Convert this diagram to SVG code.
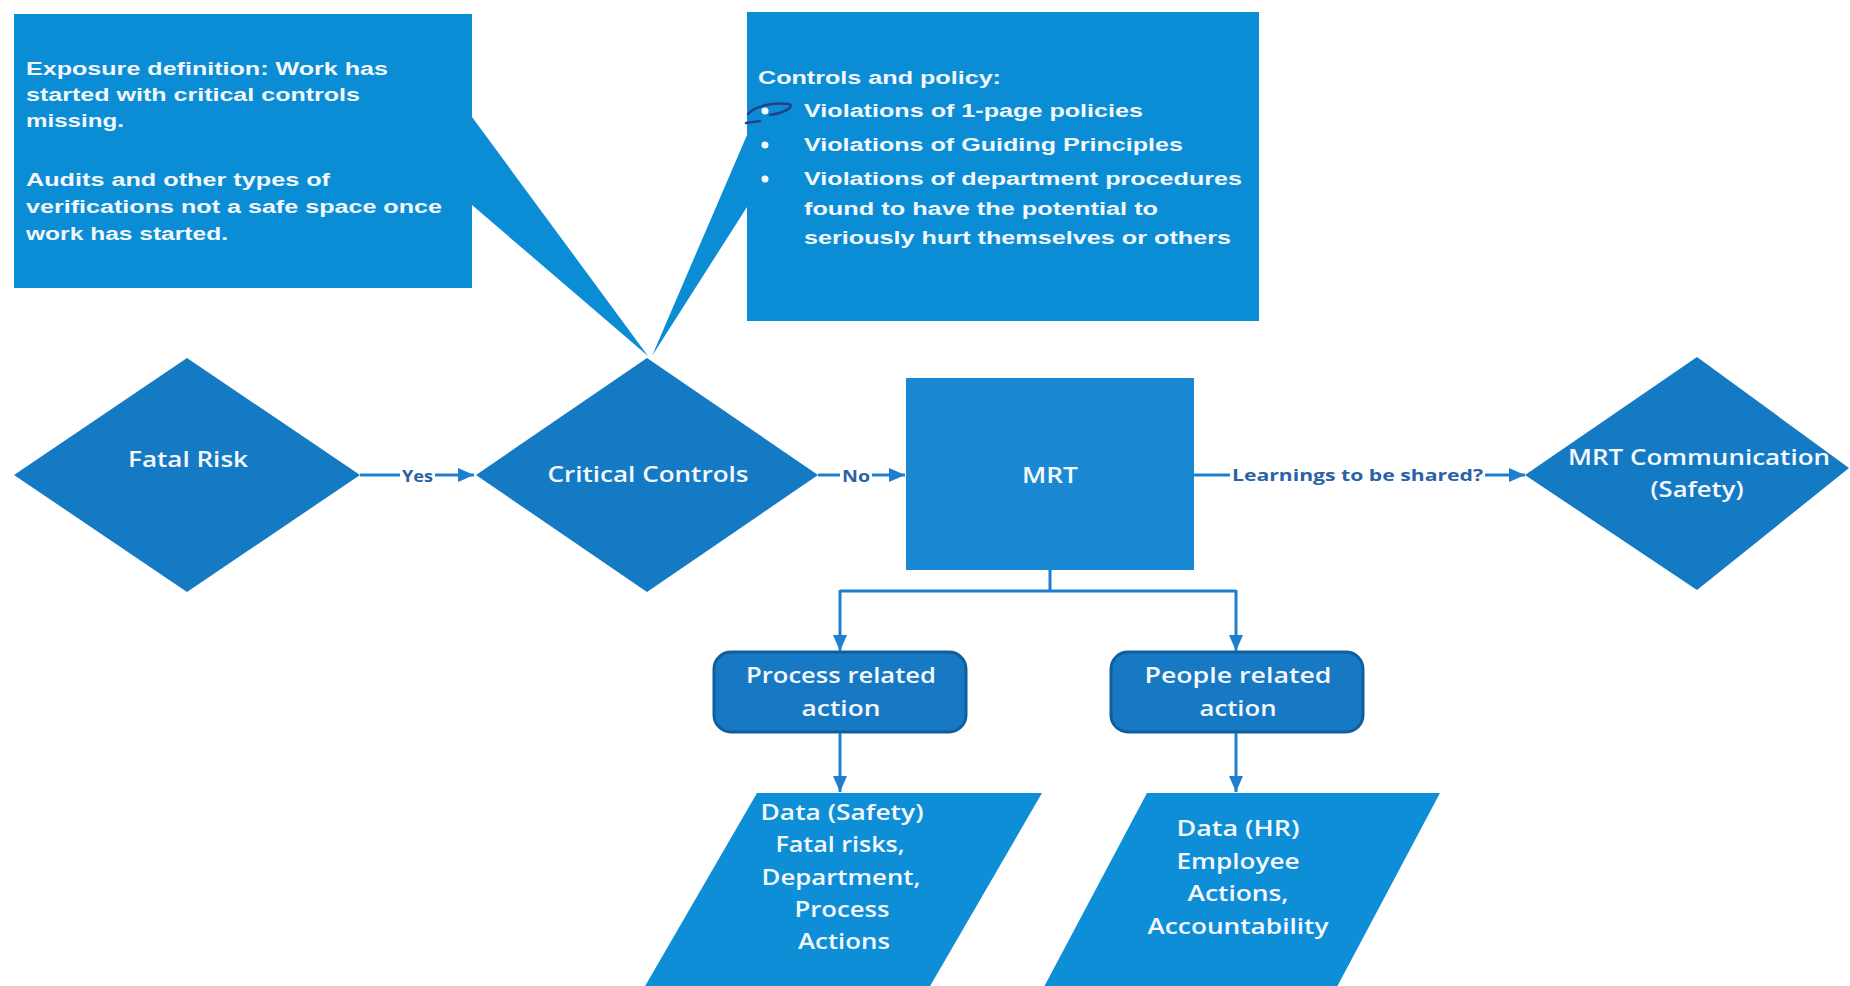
<svg xmlns="http://www.w3.org/2000/svg" width="1850" height="986" viewBox="0 0 1850 986">
<style>
.bg{fill:#ffffff}
.callout{fill:#0b8dd6}
.dia{fill:#157ac4}
.mrt{fill:#1a88d3}
.rr{fill:#1779c3;stroke:#0f5e9e;stroke-width:3}
.para{fill:#0f8ed8}
.ct{font-family:"Liberation Sans",Arial,sans-serif;font-weight:bold;font-size:18px;fill:#f2f7fb}
.nt{font-family:"Open Sans","Liberation Sans",sans-serif;font-weight:600;font-size:21px;fill:#f4f8fc;text-anchor:middle}
.lbl{font-family:"Open Sans","Liberation Sans",sans-serif;font-weight:700;font-size:16px;fill:#2a62a6}
.con{stroke:#1f7fcf;stroke-width:3;fill:none}
.bul{fill:#f2f7fb}
.pen{stroke:#22408a;stroke-width:2.5;fill:none;stroke-linecap:round}
</style>
<defs>
<marker id="arr" markerUnits="userSpaceOnUse" markerWidth="16" markerHeight="14" refX="16" refY="7" orient="auto">
<path d="M0,0 L16,7 L0,14 Z" fill="#1f7fcf"/>
</marker>
</defs>
<rect class="bg" x="0" y="0" width="1850" height="986"/>

<g id="callout-exposure">
<path class="callout" d="M14,14 H472 V117 L648,356 L472,205 V288 H14 Z"/>
<text class="ct" x="26" y="75" textLength="362" lengthAdjust="spacingAndGlyphs">Exposure definition: Work has</text>
<text class="ct" x="26" y="101" textLength="334" lengthAdjust="spacingAndGlyphs">started with critical controls</text>
<text class="ct" x="26" y="127" textLength="98" lengthAdjust="spacingAndGlyphs">missing.</text>
<text class="ct" x="26" y="186" textLength="304" lengthAdjust="spacingAndGlyphs">Audits and other types of</text>
<text class="ct" x="26" y="213" textLength="416" lengthAdjust="spacingAndGlyphs">verifications not a safe space once</text>
<text class="ct" x="26" y="240" textLength="202" lengthAdjust="spacingAndGlyphs">work has started.</text>
</g>

<g id="callout-controls">
<path class="callout" d="M747,12 H1259 V321 H747 V207 L652,356 L747,135 Z"/>
<text class="ct" x="758" y="84" textLength="243" lengthAdjust="spacingAndGlyphs">Controls and policy:</text>
<circle class="bul" cx="765" cy="111" r="3.5"/>
<circle class="bul" cx="765" cy="145" r="3.5"/>
<circle class="bul" cx="765" cy="179" r="3.5"/>
<text class="ct" x="804" y="117" textLength="339" lengthAdjust="spacingAndGlyphs">Violations of 1-page policies</text>
<text class="ct" x="804" y="151" textLength="379" lengthAdjust="spacingAndGlyphs">Violations of Guiding Principles</text>
<text class="ct" x="804" y="185" textLength="438" lengthAdjust="spacingAndGlyphs">Violations of department procedures</text>
<text class="ct" x="804" y="215" textLength="354" lengthAdjust="spacingAndGlyphs">found to have the potential to</text>
<text class="ct" x="804" y="244" textLength="427" lengthAdjust="spacingAndGlyphs">seriously hurt themselves or others</text>
<path class="pen" d="M748,114 C755,106 772,102 789,104 C794,106 788,112 770,115"/>
<path class="pen" d="M746,123 L760,121"/>
</g>

<g id="fatal-risk">
<polygon class="dia" points="14,475 187,358 360,475 187,592"/>
<text class="nt" x="188" y="467" textLength="120" lengthAdjust="spacingAndGlyphs">Fatal Risk</text>
</g>

<g id="critical-controls">
<polygon class="dia" points="476,475 647,358 818,475 647,592"/>
<text class="nt" x="648" y="482" textLength="201" lengthAdjust="spacingAndGlyphs">Critical Controls</text>
</g>

<g id="mrt">
<rect class="mrt" x="906" y="378" width="288" height="192"/>
<text class="nt" x="1050" y="483" textLength="56" lengthAdjust="spacingAndGlyphs">MRT</text>
</g>

<g id="mrt-communication">
<polygon class="dia" points="1525,475 1697,357 1849,468 1697,590"/>
<text class="nt" x="1699" y="465" textLength="262" lengthAdjust="spacingAndGlyphs">MRT Communication</text>
<text class="nt" x="1697" y="497" textLength="93" lengthAdjust="spacingAndGlyphs">(Safety)</text>
</g>

<g id="process-action">
<rect class="rr" x="714" y="652" width="252" height="80" rx="17"/>
<text class="nt" x="841" y="683" textLength="190" lengthAdjust="spacingAndGlyphs">Process related</text>
<text class="nt" x="841" y="716" textLength="79" lengthAdjust="spacingAndGlyphs">action</text>
</g>

<g id="people-action">
<rect class="rr" x="1111" y="652" width="252" height="80" rx="17"/>
<text class="nt" x="1238" y="683" textLength="187" lengthAdjust="spacingAndGlyphs">People related</text>
<text class="nt" x="1238" y="716" textLength="77" lengthAdjust="spacingAndGlyphs">action</text>
</g>

<g id="data-safety">
<polygon class="para" points="757,793 1042,793 922,1000 637,1000"/>
<text class="nt" x="842" y="820" textLength="163" lengthAdjust="spacingAndGlyphs">Data (Safety)</text>
<text class="nt" x="840" y="852" textLength="129" lengthAdjust="spacingAndGlyphs">Fatal risks,</text>
<text class="nt" x="841" y="885" textLength="159" lengthAdjust="spacingAndGlyphs">Department,</text>
<text class="nt" x="842" y="917" textLength="95" lengthAdjust="spacingAndGlyphs">Process</text>
<text class="nt" x="844" y="949" textLength="92" lengthAdjust="spacingAndGlyphs">Actions</text>
</g>

<g id="data-hr">
<polygon class="para" points="1147,793 1440,793 1330,1000 1037,1000"/>
<text class="nt" x="1238" y="836" textLength="123" lengthAdjust="spacingAndGlyphs">Data (HR)</text>
<text class="nt" x="1238" y="869" textLength="123" lengthAdjust="spacingAndGlyphs">Employee</text>
<text class="nt" x="1238" y="901" textLength="101" lengthAdjust="spacingAndGlyphs">Actions,</text>
<text class="nt" x="1238" y="934" textLength="181" lengthAdjust="spacingAndGlyphs">Accountability</text>
</g>

<g id="connectors">
<line class="con" x1="360" y1="475" x2="400" y2="475"/>
<line class="con" x1="435" y1="475" x2="474" y2="475" marker-end="url(#arr)"/>
<text class="lbl" x="402" y="482" textLength="31" lengthAdjust="spacingAndGlyphs">Yes</text>

<line class="con" x1="818" y1="475" x2="840" y2="475"/>
<line class="con" x1="872" y1="475" x2="905" y2="475" marker-end="url(#arr)"/>
<text class="lbl" x="842" y="482" textLength="28" lengthAdjust="spacingAndGlyphs">No</text>

<line class="con" x1="1194" y1="475" x2="1230" y2="475"/>
<line class="con" x1="1485" y1="475" x2="1525" y2="475" marker-end="url(#arr)"/>
<text class="lbl" x="1232" y="481" textLength="251" lengthAdjust="spacingAndGlyphs">Learnings to be shared?</text>

<polyline class="con" points="1050,570 1050,591"/>
<polyline class="con" points="840,591 1236,591"/>
<line class="con" x1="840" y1="590" x2="840" y2="651" marker-end="url(#arr)"/>
<line class="con" x1="1236" y1="590" x2="1236" y2="651" marker-end="url(#arr)"/>
<line class="con" x1="840" y1="733" x2="840" y2="792" marker-end="url(#arr)"/>
<line class="con" x1="1236" y1="733" x2="1236" y2="792" marker-end="url(#arr)"/>
</g>
</svg>
